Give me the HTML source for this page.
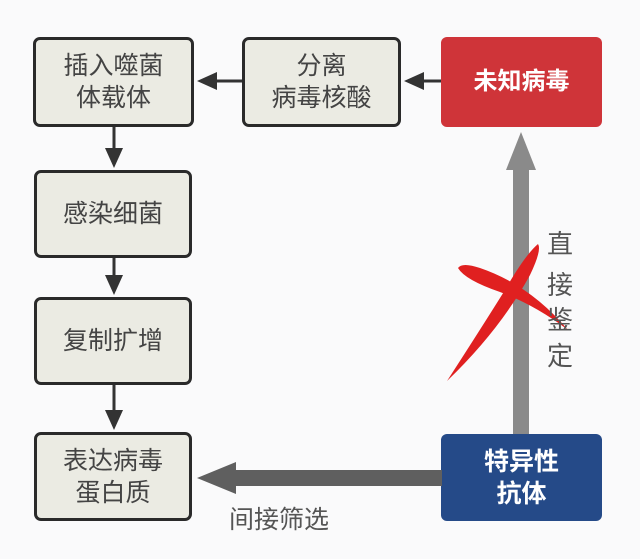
<!DOCTYPE html>
<html><head><meta charset="utf-8"><style>
body{margin:0;width:640px;height:559px;background:#fafafb;position:relative;overflow:hidden;font-family:"Liberation Sans","Noto Sans CJK SC",sans-serif}
.b{position:absolute;box-sizing:border-box;border:3px solid #2a2a2a;border-radius:7px;background:#ebebe3;color:#444;font-size:25px;line-height:32px;display:flex;align-items:center;justify-content:center;text-align:center}
.c{position:absolute;box-sizing:border-box;border-radius:6px;color:#fff;font-weight:bold;font-size:24px;line-height:32px;display:flex;align-items:center;justify-content:center;text-align:center}
.t{position:absolute;color:#555;font-size:26px}
</style></head><body>
<div class="b" style="left:33px;top:37px;width:161px;height:90px">插入噬菌<br>体载体</div>
<div class="b" style="left:242px;top:37px;width:159px;height:90px">分离<br>病毒核酸</div>
<div class="c" style="left:441px;top:37px;width:161px;height:90px;background:#cf3439">未知病毒</div>
<div class="b" style="left:34px;top:170px;width:158px;height:88px">感染细菌</div>
<div class="b" style="left:34px;top:297px;width:158px;height:88px">复制扩增</div>
<div class="b" style="left:34px;top:432px;width:158px;height:89px">表达病毒<br>蛋白质</div>
<div class="c" style="left:441px;top:434px;width:161px;height:87px;background:#254a88;font-size:25px">特异性<br>抗体</div>
<svg style="position:absolute;left:0;top:0" width="640" height="559">
<g fill="#333" stroke="#333" stroke-width="3">
<line x1="242" y1="81" x2="215" y2="81"/><polygon points="197,81 217,72 217,90" stroke="none"/>
<line x1="441" y1="81" x2="422" y2="81"/><polygon points="404,81 424,72 424,90" stroke="none"/>
<line x1="114" y1="127" x2="114" y2="152"/><polygon points="114,168 105,148 123,148" stroke="none"/>
<line x1="114" y1="258" x2="114" y2="280"/><polygon points="114,295 105,275 123,275" stroke="none"/>
<line x1="114" y1="385" x2="114" y2="414"/><polygon points="114,430 105,410 123,410" stroke="none"/>
</g>
<rect x="513" y="168" width="16" height="266" fill="#8a8a8a"/>
<polygon points="521,132 536,170 506,170" fill="#8a8a8a"/>
<rect x="233" y="470" width="209" height="16" fill="#5f5f5f"/>
<polygon points="197,478 236,462 236,494" fill="#5f5f5f"/>
<g fill="#e02020">
<path d="M458,268 Q462,262 480,268 Q530,285 568,330 Q535,305 500,292 Q465,280 458,268 Z"/>
<path d="M538,244 Q542,250 530,275 Q500,330 447,381 Q480,330 505,290 Q525,255 538,244 Z"/>
</g>
</svg>
<div class="t" style="left:547px;top:224px">直</div>
<div class="t" style="left:547px;top:265px">接</div>
<div class="t" style="left:547px;top:300px">鉴</div>
<div class="t" style="left:547px;top:336px">定</div>
<div class="t" style="left:229px;top:500px;font-size:25px">间接筛选</div>
</body></html>
